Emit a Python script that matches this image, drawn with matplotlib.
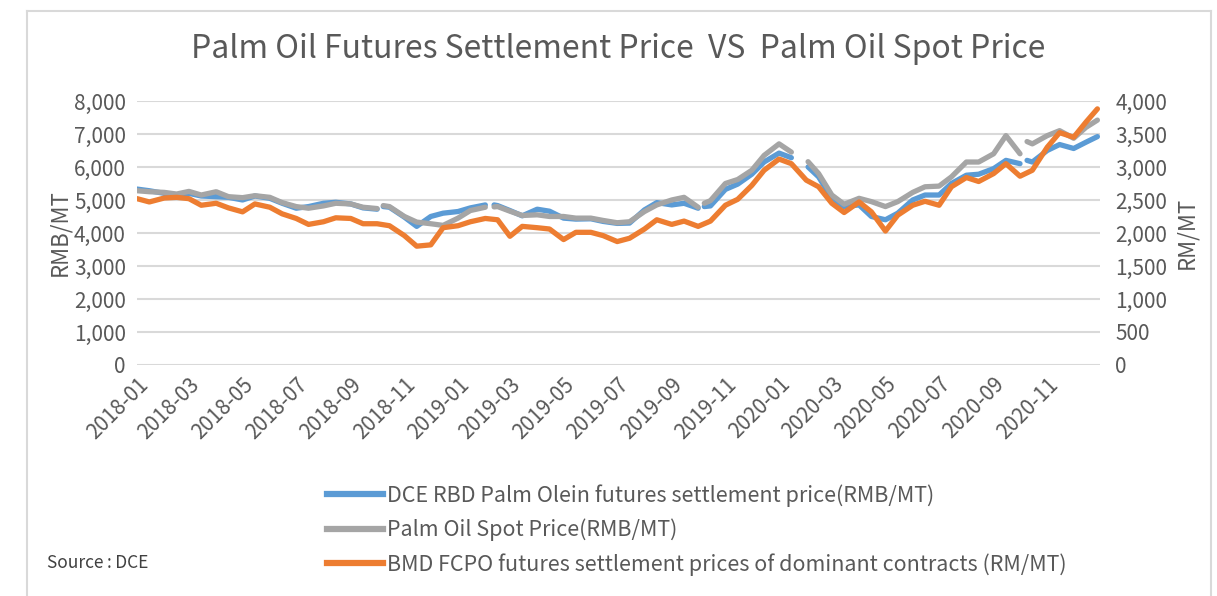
# palm oil futures vs spot, redrawn from the picture (semi-monthly readings)
import numpy as np
import pandas as pd
import matplotlib
matplotlib.use('Agg')
import matplotlib.pyplot as plt
import matplotlib.dates as mdates
from matplotlib.lines import Line2D
from matplotlib.ticker import FuncFormatter

plt.rcParams['font.family'] = ['Noto Sans CJK SC', 'DejaVu Sans']

nan = np.nan

# grid dates: 1st and 15th of each month, plus the last trading days
grid_dates = list(pd.date_range('2018-01-01', '2020-12-15', freq='SMS')) + [pd.Timestamp('2020-12-28')]

# DCE RBD palm olein futures settlement price (RMB/MT)
dce_olein = [5330, 5280, 5200, 5150, 5200, 5120, 5100, 5080, 5000, 5120, 5050, 4900,
             4750, 4800, 4900, 4930, 4880, 4760, 4720, 4780, 4480, 4200, 4500, 4600,
             4650, 4760, 4850, 4830, 4680, 4520, 4720, 4660, 4450, 4420, 4430, 4350,
             4290, 4300, 4700, 4920, 4850, 4900, 4750, 4820, 5320, 5480, 5780, 6150,
             6420, 6280, nan, 5700, 5050, 4800, 4850, 4500, 4400, 4600, 5000, 5150,
             5150, 5500, 5750, 5780, 5950, 6200, 6100, 6150, 6500, 6680, 6560, 6750,
             6920]

# palm oil spot price (RMB/MT)
palm_spot = [5280, 5250, 5230, 5180, 5260, 5150, 5250, 5100, 5070, 5130, 5080, 4920,
             4800, 4750, 4820, 4900, 4880, 4780, 4740, 4800, 4500, 4330, 4280, 4230,
             4450, 4680, 4780, 4800, 4660, 4530, 4550, 4500, 4500, 4450, 4450, 4380,
             4310, 4340, 4650, 4850, 5000, 5080, 4780, 4980, 5500, 5620, 5900, 6350,
             6700, 6450, nan, 5800, 5150, 4870, 5050, 4950, 4800, 4950, 5230, 5400,
             5420, 5700, 6150, 6150, 6400, 6950, 6400, 6700, 6950, 7100, 6870, 7200,
             7420]

# holiday breaks in the Chinese series, and the first day back
gap_dates = ['2018-10-04', '2019-02-06', '2019-10-04', '2020-01-26', '2020-10-04']
resume_dates = ['2018-10-08', '2019-02-11', '2019-10-08', '2020-02-03', '2020-10-09']
resume_olein = [4800, 4850, 4800, 6000, 6200]
resume_spot = [4830, 4790, 4900, 6160, 6770]

# BMD FCPO dominant contract settlement (RM/MT)
fcpo = [2520, 2470, 2530, 2540, 2520, 2420, 2450, 2380, 2320, 2440, 2390, 2290,
        2220, 2130, 2170, 2230, 2220, 2140, 2140, 2110, 1960, 1800, 1820, 2080,
        2110, 2170, 2220, 2200, 1950, 2100, 2080, 2060, 1900, 2010, 2010, 1960,
        1870, 1920, 2060, 2200, 2130, 2180, 2100, 2180, 2420, 2510, 2720, 2950,
        3120, 3050, 2800, 2700, 2450, 2310, 2470, 2320, 2030, 2270, 2420, 2480,
        2420, 2700, 2840, 2780, 2900, 3050, 2860, 2950, 3300, 3520, 3450, 3680,
        3880]

rmb = pd.DataFrame({'date': grid_dates, 'olein': dce_olein, 'spot': palm_spot})
gaps = pd.DataFrame({'date': pd.to_datetime(gap_dates), 'olein': nan, 'spot': nan})
back = pd.DataFrame({'date': pd.to_datetime(resume_dates), 'olein': resume_olein, 'spot': resume_spot})
rmb = pd.concat([rmb, gaps, back]).sort_values('date')

blue = '#5B9BD5'
grey = '#A5A5A5'
orange = '#ED7D31'
txt = '#595959'

fig = plt.figure(figsize=(12.17, 5.96), dpi=100)
ax = fig.add_axes([0.1126, 0.3876, 0.7913, 0.443])
ax2 = ax.twinx()

ax.plot(rmb['date'], rmb['olein'], color=blue, lw=3.8, solid_capstyle='round', zorder=3)
ax.plot(rmb['date'], rmb['spot'], color=grey, lw=3.8, solid_capstyle='round', zorder=4)
ax2.plot(grid_dates, fcpo, color=orange, lw=3.8, solid_capstyle='round', zorder=5)

ax.set_ylim(0, 8000)
ax2.set_ylim(0, 4000)
ax.set_yticks(range(0, 8001, 1000))
ax2.set_yticks(range(0, 4001, 500))
fmt = FuncFormatter(lambda v, p: f'{int(v):,}')
ax.yaxis.set_major_formatter(fmt)
ax2.yaxis.set_major_formatter(fmt)

ax.set_xlim(pd.Timestamp('2018-01-01'), pd.Timestamp('2020-12-31'))
ax.xaxis.set_major_locator(mdates.MonthLocator(bymonth=[1, 3, 5, 7, 9, 11]))
ax.xaxis.set_major_formatter(mdates.DateFormatter('%Y-%m'))

ax.grid(axis='y', color='#D9D9D9', lw=1.5)
ax.set_axisbelow(True)
for a in (ax, ax2):
    for s in a.spines.values():
        s.set_visible(False)
    a.tick_params(length=0, colors=txt, labelsize=15)
ax.tick_params(axis='y', pad=8)
ax2.tick_params(axis='y', pad=11)
ax.tick_params(axis='x', pad=6)
for lbl in ax.get_xticklabels():
    lbl.set_rotation(45)
    lbl.set_ha('right')
    lbl.set_rotation_mode('anchor')

ax.set_ylabel('RMB/MT', color=txt, fontsize=16, labelpad=2)
ax2.set_ylabel('RM/MT', color=txt, fontsize=16, rotation=90, labelpad=6)

fig.text(0.508, 0.918, 'Palm Oil Futures Settlement Price  VS  Palm Oil Spot Price',
         ha='center', va='center', color=txt, fontsize=23)

handles = [Line2D([], [], color=blue, lw=4.5),
           Line2D([], [], color=grey, lw=4.5),
           Line2D([], [], color=orange, lw=4.5)]
labels = ['DCE RBD Palm Olein futures settlement price(RMB/MT)',
          'Palm Oil Spot Price(RMB/MT)',
          'BMD FCPO futures settlement prices of dominant contracts (RM/MT)']
leg = fig.legend(handles, labels, loc='upper left', bbox_to_anchor=(0.262, 0.202),
                 frameon=False, fontsize=15.5, handlelength=2.6, handletextpad=0.15,
                 labelspacing=0.55, borderaxespad=0)
for t in leg.get_texts():
    t.set_color(txt)

fig.text(0.039, 0.055, 'Source\u2009:\u2009DCE', color='#404040', fontsize=12.5, va='center')

# outer frame (left, top, right)
fc = '#D9D9D9'
fig.add_artist(Line2D([0.0222, 0.0222], [0, 0.9816], color=fc, lw=1.5, transform=fig.transFigure))
fig.add_artist(Line2D([0.0222, 0.995], [0.9816, 0.9816], color=fc, lw=1.5, transform=fig.transFigure))
fig.add_artist(Line2D([0.995, 0.995], [0, 0.9816], color=fc, lw=1.5, transform=fig.transFigure))

fig.savefig('out.png', dpi=100)
